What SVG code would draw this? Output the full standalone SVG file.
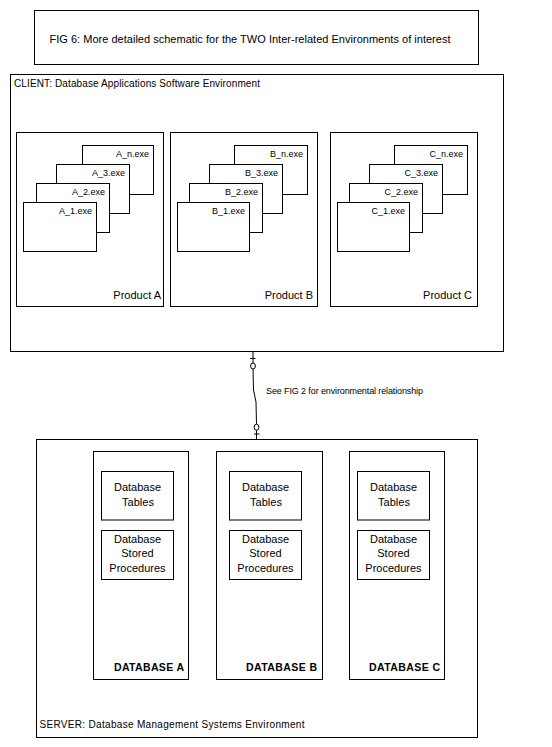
<svg xmlns="http://www.w3.org/2000/svg" width="552" height="747" viewBox="0 0 552 747">
<style>
rect{fill:#fff;stroke:#000;stroke-width:1}
text{font-family:"Liberation Sans",Arial,sans-serif;fill:#000}
.exe{font-size:9px;text-anchor:end}
.prod{font-size:11px;text-anchor:end}
.env{font-size:10px}
.db{font-size:11px;text-anchor:middle}
.dbt{font-size:10.5px;font-weight:bold;text-anchor:end}
.conn{stroke:#000;stroke-width:1;fill:none}
</style>
<rect x="0" y="0" width="552" height="747" style="stroke:none"/>
<g id="title">
<rect x="34.5" y="10.5" width="444" height="54"/>
<text x="250" y="43" font-size="11" text-anchor="middle" textLength="401" lengthAdjust="spacing">FIG 6:  More detailed schematic for the TWO Inter-related Environments of interest</text>
</g>
<g id="client">
<rect x="10.5" y="74.5" width="493" height="277"/>
<text class="env" x="14" y="87" textLength="246" lengthAdjust="spacing">CLIENT: Database Applications Software Environment</text>
</g>
<g id="productA">
<rect x="16.5" y="132.5" width="147" height="174"/>
<rect x="82.5" y="145.5" width="71" height="49"/><text class="exe" x="149" y="157">A_n.exe</text>
<rect x="56.5" y="164.5" width="73" height="49"/><text class="exe" x="125" y="176">A_3.exe</text>
<rect x="36.5" y="183.5" width="73" height="49"/><text class="exe" x="105" y="195">A_2.exe</text>
<rect x="23.5" y="202.5" width="73" height="49"/><text class="exe" x="92" y="214">A_1.exe</text>
<text class="prod" x="161" y="299">Product A</text>
</g>
<g id="productB">
<rect x="170.5" y="132.5" width="147" height="174"/>
<rect x="234.5" y="145.5" width="73" height="49"/><text class="exe" x="303" y="157">B_n.exe</text>
<rect x="209.5" y="164.5" width="73" height="49"/><text class="exe" x="278" y="176">B_3.exe</text>
<rect x="189.5" y="183.5" width="73" height="49"/><text class="exe" x="258" y="195">B_2.exe</text>
<rect x="177.5" y="202.5" width="72" height="49"/><text class="exe" x="245" y="214">B_1.exe</text>
<text class="prod" x="313" y="299">Product B</text>
</g>
<g id="productC">
<rect x="330.5" y="132.5" width="147" height="174"/>
<rect x="394.5" y="145.5" width="73" height="49"/><text class="exe" x="463" y="157">C_n.exe</text>
<rect x="369.5" y="164.5" width="73" height="49"/><text class="exe" x="438" y="176">C_3.exe</text>
<rect x="349.5" y="183.5" width="73" height="49"/><text class="exe" x="418" y="195">C_2.exe</text>
<rect x="337.5" y="202.5" width="72" height="49"/><text class="exe" x="405" y="214">C_1.exe</text>
<text class="prod" x="472" y="299">Product C</text>
</g>
<g id="server">
<rect x="36.5" y="439.5" width="441" height="298"/>
<text class="env" x="39.5" y="728" textLength="265" lengthAdjust="spacing">SERVER: Database Management Systems Environment</text>
</g>
<g id="databaseA">
<rect x="93.5" y="451.5" width="95" height="228"/>
<rect x="101.5" y="471.5" width="72" height="48.5"/>
<text class="db" x="137.5" y="491">Database</text><text class="db" x="138" y="506">Tables</text>
<rect x="101.5" y="530.5" width="72" height="49"/>
<text class="db" x="137.5" y="542.5">Database</text><text class="db" x="137.5" y="557">Stored</text><text class="db" x="137.5" y="571.5">Procedures</text>
<text class="dbt" x="184" y="671" textLength="70" lengthAdjust="spacing">DATABASE A</text>
</g>
<g id="databaseB">
<rect x="216.5" y="451.5" width="106" height="228"/>
<rect x="229.5" y="471.5" width="72" height="48.5"/>
<text class="db" x="265.5" y="491">Database</text><text class="db" x="266" y="506">Tables</text>
<rect x="229.5" y="530.5" width="72" height="49"/>
<text class="db" x="265.5" y="542.5">Database</text><text class="db" x="265.5" y="557">Stored</text><text class="db" x="265.5" y="571.5">Procedures</text>
<text class="dbt" x="317" y="671" textLength="71" lengthAdjust="spacing">DATABASE B</text>
</g>
<g id="databaseC">
<rect x="349.5" y="451.5" width="95" height="228"/>
<rect x="357.5" y="471.5" width="72" height="48.5"/>
<text class="db" x="393.5" y="491">Database</text><text class="db" x="394" y="506">Tables</text>
<rect x="357.5" y="530.5" width="72" height="49"/>
<text class="db" x="393.5" y="542.5">Database</text><text class="db" x="393.5" y="557">Stored</text><text class="db" x="393.5" y="571.5">Procedures</text>
<text class="dbt" x="440" y="671" textLength="71" lengthAdjust="spacing">DATABASE C</text>
</g>
<g id="connectors">
<line class="conn" x1="253" y1="352" x2="253" y2="363"/>
<line class="conn" x1="250" y1="358.5" x2="255.5" y2="358.5"/>
<ellipse class="conn" cx="253" cy="366" rx="2.4" ry="3"/>
<polyline class="conn" points="253,369 253.5,390 256,402 256.5,424"/>
<ellipse class="conn" cx="256.5" cy="427.2" rx="2.4" ry="3"/>
<line class="conn" x1="256.5" y1="430.2" x2="256.5" y2="439"/>
<line class="conn" x1="254" y1="434" x2="259.5" y2="434"/>
<text x="266" y="394" font-size="9" textLength="157" lengthAdjust="spacing">See FIG 2 for environmental relationship</text>
</g>
</svg>
